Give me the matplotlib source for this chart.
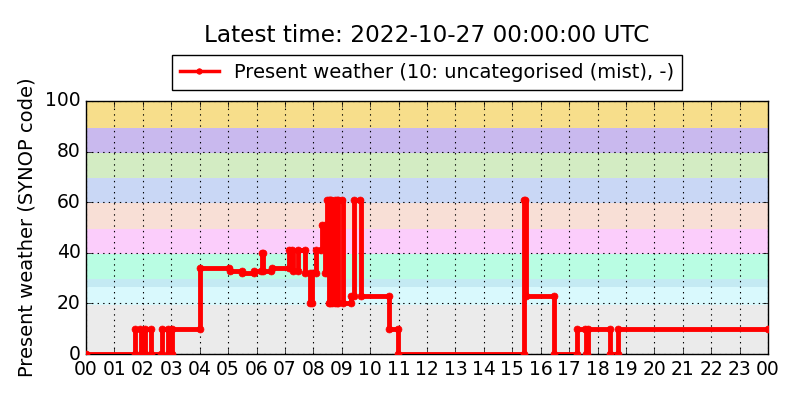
#Present weather (SYNOP code) over one day

import numpy as np
import matplotlib
matplotlib.use('Agg')
import matplotlib.pyplot as plt
import matplotlib.dates as mdates
import pandas as pd

#Change times (hours after 2022-10-26 00:00 UTC) and the code that starts there
change_hours = [0.0, 1.72, 1.92, 2.08, 2.28, 2.66, 2.90, 3.02, 4.02,
                5.05, 5.50, 5.90, 6.18, 6.22, 6.53, 7.14, 7.27, 7.45, 7.71,
                7.90, 7.95, 8.11, 8.29, 8.40, 8.47, 8.55, 8.58, 8.64, 8.77,
                8.83, 8.87, 9.03, 9.32, 9.42, 9.66, 10.67, 10.98,
                15.42, 15.47, 16.47, 17.29, 17.58, 17.65, 18.44, 18.71]
codes = [0, 10, 0, 10, 0, 10, 0, 10, 34,
         33, 32, 33, 40, 33, 34, 41, 33, 41, 32,
         20, 32, 41, 51, 32, 61, 20, 61, 20, 61,
         20, 61, 20, 23, 61, 23, 10, 0,
         61, 23, 0, 10, 0, 10, 0, 10]
end_hour = 24.0

#Background bands for the SYNOP code groups
band_edges = [0, 19.5, 26.5, 29.5, 39.5, 49.5, 59.5, 69.5, 79.5, 89.5, 100]
band_colours = ['#ebebeb', '#d9f9fd', '#c4eaf3', '#b9fde3', '#fbcdfb',
                '#f8dfd6', '#c9d7f5', '#d3ecc3', '#c9b9ee', '#f7de8b']

start = pd.Timestamp('2022-10-26 00:00:00')

#each level gets a point where it starts and where it ends
seg_end = change_hours[1:] + [end_hour]
t = []
v = []
for h0, h1, c in zip(change_hours, seg_end, codes):
    t += [h0, h1 - 0.005]
    v += [c, c]
times = [start + pd.Timedelta(hours=h) for h in t]

plt.style.use('classic')
plt.rcParams['font.family'] = ['DejaVu Sans']
fig = plt.figure(figsize=(8, 4), dpi=100, facecolor='white')
ax = fig.add_axes([0.1075, 0.115, 0.8525, 0.6325])

for lo, hi, col in zip(band_edges[:-1], band_edges[1:], band_colours):
    ax.axhspan(lo, hi, color=col, lw=0, zorder=0)

ax.plot(times, v, color='red', lw=3.5, marker='o', ms=5, mec='red',
        drawstyle='steps-post', label='Present weather (10: uncategorised (mist), -)',
        zorder=3)

ax.set_xlim(start, start + pd.Timedelta(hours=24))
ax.set_ylim(0, 100)
ax.set_yticks([0, 20, 40, 60, 80, 100])
ax.xaxis.set_major_locator(mdates.HourLocator(interval=1))
ax.xaxis.set_major_formatter(mdates.DateFormatter('%H'))
ax.tick_params(labelsize=13.5)
ax.grid(True, color='k', linestyle=':', linewidth=0.8, zorder=1)
ax.set_axisbelow(False)
ax.set_ylabel('Present weather (SYNOP code)', fontsize=14, labelpad=6)

leg = ax.legend(loc='lower center', bbox_to_anchor=(0.5, 1.045), fontsize=14,
                numpoints=1, fancybox=False, borderaxespad=0)
for line in leg.get_lines():
    line.set_linewidth(2.5)
    line.set_markersize(4)
ax.set_title('Latest time: 2022-10-27 00:00:00 UTC', fontsize=16.7, y=1.205)

fig.savefig('out.png', dpi=100, facecolor='white')
